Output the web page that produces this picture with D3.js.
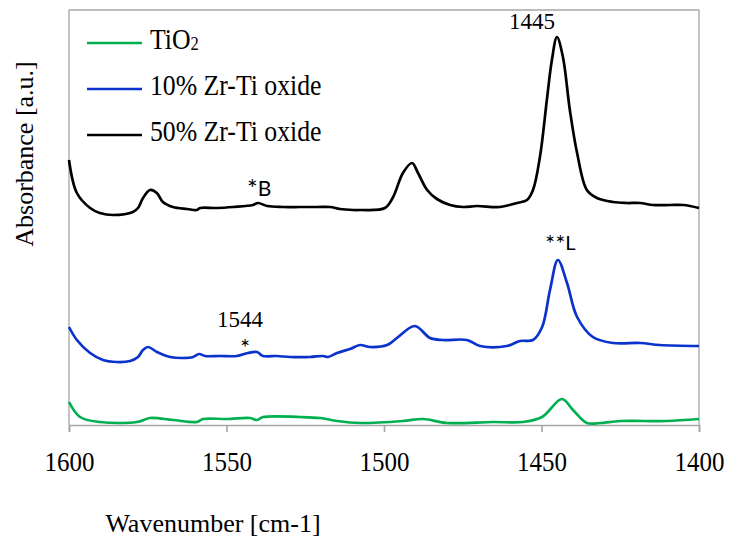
<!DOCTYPE html>
<html lang="en">
<head>
  <meta charset="UTF-8">
  <title>FTIR Absorbance</title>
  <script src="https://d3js.org/d3.v7.min.js"></script>
  <style>
    body { margin: 0; background: #fff; }
    svg { display: block; }
  </style>
</head>
<body>
  <div id="chart"></div>
  <script>
    // spectra: [wavenumber cm-1, absorbance a.u.]
    const tio2 = [
      [1600, 0.23], [1596.5, 0.08], [1590.2, 0.03], [1578.4, 0.03], [1574.3, 0.07], [1567.0, 0.05],
      [1559.4, 0.03], [1557.5, 0.06], [1549.8, 0.06], [1542.5, 0.07], [1540.3, 0.05], [1538.4, 0.08],
      [1526.7, 0.08], [1520.3, 0.07], [1514.9, 0.04], [1507.6, 0.02], [1494.0, 0.04], [1487.6, 0.06],
      [1480.0, 0.02], [1465.4, 0.03], [1455.9, 0.03], [1449.8, 0.08], [1443.5, 0.26], [1440.0, 0.15],
      [1435.6, 0.02], [1431.4, 0.02], [1425.1, 0.04], [1417.8, 0.04], [1410.2, 0.04], [1400, 0.06]
    ];
    const zr10 = [
      [1600, 0.98], [1597.5, 0.85], [1593.3, 0.72], [1589.2, 0.65], [1584.8, 0.63], [1580.6, 0.64],
      [1578.1, 0.68], [1576.5, 0.75], [1574.9, 0.78], [1572.1, 0.73], [1567.9, 0.68], [1563.8, 0.67],
      [1560.6, 0.68], [1558.7, 0.71], [1556.8, 0.69], [1552.1, 0.69], [1546.7, 0.69], [1543.2, 0.72],
      [1540.3, 0.73], [1538.4, 0.69], [1534.0, 0.69], [1529.8, 0.68], [1523.5, 0.68], [1519.4, 0.69],
      [1517.8, 0.68], [1514.9, 0.72], [1510.8, 0.76], [1507.6, 0.80], [1504.4, 0.78], [1499.0, 0.80],
      [1495.9, 0.87], [1490.2, 0.99], [1485.4, 0.87], [1481.3, 0.85], [1473.7, 0.85], [1469.5, 0.79],
      [1461.0, 0.79], [1456.8, 0.84], [1452.7, 0.85], [1449.8, 0.98], [1447.3, 1.35], [1444.8, 1.65],
      [1441.9, 1.42], [1438.7, 1.08], [1433.7, 0.88], [1427.3, 0.82], [1418.7, 0.82], [1412.4, 0.80],
      [1400, 0.79]
    ];
    const zr50 = [
      [1600, 2.65], [1597.5, 2.32], [1593.3, 2.17], [1590.2, 2.12], [1586.0, 2.10], [1579.7, 2.13],
      [1578.1, 2.17], [1576.5, 2.27], [1574.3, 2.35], [1572.1, 2.32], [1570.2, 2.23], [1567.0, 2.18],
      [1562.5, 2.16], [1559.4, 2.15], [1558.4, 2.17], [1553.0, 2.17], [1547.9, 2.18], [1541.6, 2.20],
      [1540.0, 2.22], [1537.1, 2.19], [1532.1, 2.18], [1526.7, 2.18], [1521.3, 2.18], [1517.1, 2.18],
      [1514.0, 2.16], [1509.8, 2.15], [1507.6, 2.15], [1499.7, 2.17], [1497.1, 2.28], [1494.0, 2.52],
      [1491.1, 2.62], [1489.2, 2.52], [1486.3, 2.35], [1483.2, 2.26], [1479.0, 2.20], [1474.9, 2.18],
      [1470.5, 2.19], [1463.2, 2.18], [1457.8, 2.22], [1454.6, 2.25], [1452.7, 2.35], [1450.5, 2.68],
      [1448.3, 3.25], [1446.7, 3.65], [1445.1, 3.88], [1443.2, 3.68], [1441.0, 3.15], [1438.7, 2.72],
      [1435.6, 2.35], [1432.4, 2.27], [1427.3, 2.23], [1422.9, 2.22], [1418.7, 2.22], [1414.6, 2.20],
      [1409.2, 2.20], [1404.9, 2.20], [1400, 2.17]
    ];
    const seriesNames = ["TiO", "10% Zr-Ti oxide", "50% Zr-Ti oxide"];
    const seriesColors = ["#00b050", "#0a32cc", "#000000"];
    const xTicks = [1600, 1550, 1500, 1450, 1400];

    // peak labels: [stars, text, wavenumber, absorbance, font, anchor, size]
    const notes = [
      ["", "1445", 1453, 3.96, "serif", "middle", 23],
      ["**", "L", 1448.9, 1.75, "sans", "start", 20],
      ["*", "B", 1543.5, 2.29, "sans", "start", 21],
      ["", "1544", 1545.7, 0.98, "serif", "middle", 23],
      ["*", "", 1544.1, 0.71, "sans", "middle", 20]
    ];

    const SERIF = '"Liberation Serif", "Times New Roman", Times, serif';
    const SANS = 'Lato, "Liberation Sans", Arial, sans-serif';

    const width = 731, height = 541;
    const margin = { top: 10, right: 32, bottom: 116, left: 69 };
    const grey = "#a6a6a6";

    const svg = d3.select("#chart").append("svg")
      .attr("width", width).attr("height", height);

    const x = d3.scaleLinear().domain([1600, 1400]).range([margin.left, width - margin.right]);
    const y = d3.scaleLinear().domain([0, 4.15]).range([height - margin.bottom, margin.top]);

    // frame on left, top, right
    svg.append("path")
      .attr("d", `M${x(1600)},${y(0)}V${y(4.15)}H${x(1400)}V${y(0)}`)
      .attr("fill", "none").attr("stroke", grey).attr("stroke-width", 1.3);

    const xAxis = svg.append("g")
      .attr("transform", `translate(0,${y(0)})`)
      .call(d3.axisBottom(x).tickValues(xTicks).tickSize(7).tickFormat(d3.format("d")));
    xAxis.select(".domain").attr("stroke", grey).attr("stroke-width", 1.6);
    xAxis.selectAll(".tick line").attr("stroke", grey).attr("stroke-width", 1.6);
    // the original type is drawn a little taller than wide
    xAxis.selectAll(".tick text")
      .attr("y", 0).attr("dy", 0)
      .attr("transform", "translate(0,46) scale(1,1.12)")
      .style("font-family", SERIF).style("font-size", "25px").attr("fill", "#000");

    const line = d3.line()
      .x(d => x(d[0])).y(d => y(d[1]))
      .curve(d3.curveCatmullRom.alpha(0.5));

    [tio2, zr10, zr50].forEach((data, i) => {
      svg.append("path").datum(data)
        .attr("d", line)
        .attr("fill", "none")
        .attr("stroke", seriesColors[i])
        .attr("stroke-width", 2.7)
        .attr("stroke-linejoin", "round");
    });

    // legend
    const legend = svg.append("g").attr("transform", "translate(87,43)");
    seriesNames.forEach((name, i) => {
      const row = legend.append("g").attr("transform", `translate(0,${i * 46})`);
      row.append("line").attr("x1", 0).attr("x2", 55)
        .attr("stroke", seriesColors[i]).attr("stroke-width", 2.7);
      const t = row.append("text")
        .attr("transform", "translate(63,6) scale(1.03,1.14)")
        .style("font-family", SERIF).style("font-size", "25px")
        .text(name);
      if (i === 0) t.append("tspan").style("font-size", "16px").attr("dy", 1).text("2");
    });

    // annotations
    svg.selectAll(".note").data(notes).join("text")
      .attr("class", "note")
      .style("font-family", d => d[4] === "serif" ? SERIF : SANS)
      .style("font-size", d => d[6] + "px")
      .attr("x", d => x(d[2])).attr("y", d => y(d[3]))
      .attr("text-anchor", d => d[5])
      .each(function(d) {
        const t = d3.select(this);
        if (d[0]) t.append("tspan").attr("dy", 2).style("font-size", (d[6] * 1.2) + "px").text(d[0]);
        if (d[1]) t.append("tspan").attr("dy", d[0] ? -2 : 0).text(d[1]);
      });

    // axis titles
    svg.append("text")
      .style("font-family", SERIF).style("font-size", "26px")
      .attr("x", 213).attr("y", 532)
      .attr("text-anchor", "middle")
      .text("Wavenumber [cm-1]");

    svg.append("text")
      .style("font-family", SERIF).style("font-size", "26px")
      .attr("transform", "translate(33,154) rotate(-90)")
      .attr("text-anchor", "middle")
      .text("Absorbance [a.u.]");
  </script>
</body>
</html>
